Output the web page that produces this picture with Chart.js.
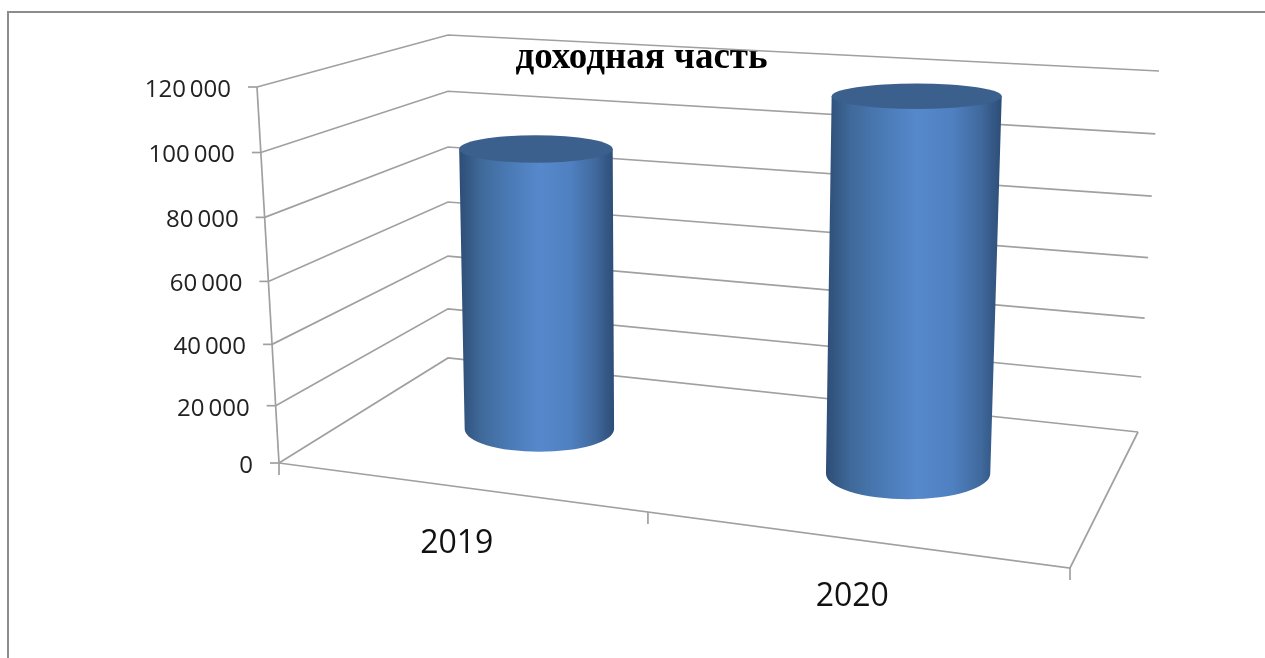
<!DOCTYPE html>
<html lang="ru">
<head>
<meta charset="utf-8">
<title>доходная часть</title>
<script src="https://cdn.jsdelivr.net/npm/chart.js@4"></script>
<style>
    html, body { margin: 0; padding: 0; background: #fff; overflow: hidden; }
    #wrap { position: relative; width: 1265px; height: 658px; }
    #frame { position: absolute; left: 7px; top: 11px; right: 0; bottom: 0; border-top: 2px solid #8c8c8c; border-left: 2px solid #8c8c8c; }
    canvas { position: absolute; left: 0; top: 0; }
</style>
</head>
<body>
<div id="wrap">
    <div id="frame"></div>
    <canvas id="grafico" width="1265" height="658"></canvas>
</div>
<script>
// Dados
const anos = ['2019', '2020'];
const receita = [94700, 118500];
const yTicks = [0, 20000, 40000, 60000, 80000, 100000, 120000];
const yTickLabels = ['0', '20\u2009000', '40\u2009000', '60\u2009000', '80\u2009000', '100\u2009000', '120\u2009000'];
const titulo = 'доходная часть';

// Cantos da caixa 3D na tela: f = frente, b = fundo, l/r = esquerda/direita, 0/1 = base/topo
const box = {
    fl0: [279, 463], fr0: [1070, 568], bl0: [448, 358], br0: [1138, 432],
    fl1: [257, 87], fr1: [1080, 137], bl1: [448, 35], br1: [1159, 71]
};
const lineColor = '#a0a0a0';
const tickFont = '24px "Open Sans"';
const catFont = '32px "Open Sans"';
const barDepth = 0.52;    // posição das barras na profundidade do piso
const barRadiusD = 0.205; // raio do cilindro na profundidade

function mix(a, b, t) {
    return [a[0] + (b[0] - a[0]) * t, a[1] + (b[1] - a[1]) * t];
}

// u: 0..1 na largura, v: 0..1 na altura, d: 0 (frente)..1 (fundo)
function project(u, v, d) {
    const w = 1.144 - 0.085 * d; // encurtamento da perspectiva
    const uw = u / (u + (1 - u) * w);
    const vw = Math.pow(v, 1.05);
    const bottom = mix(mix(box.fl0, box.fr0, uw), mix(box.bl0, box.br0, uw), d);
    const top = mix(mix(box.fl1, box.fr1, uw), mix(box.bl1, box.br1, uw), d);
    return mix(bottom, top, vw);
}

function line(ctx, pts) {
    ctx.beginPath();
    pts.forEach((p, i) => (i === 0 ? ctx.moveTo(p[0], p[1]) : ctx.lineTo(p[0], p[1])));
    ctx.stroke();
}

// Paredes, piso, marcas e textos dos eixos
const wallsPlugin = {
    id: 'walls',
    beforeDatasetsDraw(chart) {
        const ctx = chart.ctx;
        const yScale = chart.scales.y;
        const xScale = chart.scales.x;
        const area = chart.chartArea;
        ctx.save();
        ctx.strokeStyle = lineColor;
        ctx.lineWidth = 1.7;

        yScale.ticks.forEach((tick, i) => {
            const v = (area.bottom - yScale.getPixelForValue(tick.value)) / area.height;
            const front = project(0, v, 0);
            line(ctx, [front, project(0, v, 1), project(1, v, 1)]);
            line(ctx, [[front[0] - 9, front[1]], front]);

            ctx.fillStyle = '#222';
            ctx.font = tickFont;
            ctx.textAlign = 'right';
            ctx.textBaseline = 'middle';
            ctx.fillText(yTickLabels[i], front[0] - 26, front[1] + 3);
        });

        line(ctx, [project(0, 0, 0), project(0, 1, 0)]);
        line(ctx, [project(0, 0, 0), project(1, 0, 0), project(1, 0, 1)]);

        // marcas do eixo x (limites das categorias)
        [0, 0.5, 1].forEach(u => {
            const p = project(u, 0, 0);
            line(ctx, [p, [p[0], p[1] + 12]]);
        });

        // rótulos das categorias seguem a borda da frente
        anos.forEach((ano, i) => {
            const u = (xScale.getPixelForValue(i) - area.left) / area.width;
            const a = mix(box.fl0, box.fr0, u);
            ctx.fillStyle = '#111';
            ctx.font = catFont;
            ctx.textAlign = 'center';
            ctx.textBaseline = 'middle';
            ctx.fillText(ano, a[0] - 20, a[1] + 55);
        });
        ctx.restore();
    },
    // Cilindros a partir dos elementos de barra
    afterDatasetsDraw(chart) {
        const ctx = chart.ctx;
        const area = chart.chartArea;
        chart.getDatasetMeta(0).data.forEach(bar => {
            const u0 = (bar.x - bar.width / 2 - area.left) / area.width;
            const u1 = (bar.x + bar.width / 2 - area.left) / area.width;
            const uc = (bar.x - area.left) / area.width;
            const v = (area.bottom - bar.y) / area.height;
            drawCylinder(ctx, u0, uc, u1, v);
        });
    }
};

function ellipseAt(u0, uc, u1, v) {
    const l = project(u0, v, barDepth);
    const r = project(u1, v, barDepth);
    const front = project(uc, v, barDepth - barRadiusD);
    const back = project(uc, v, barDepth + barRadiusD);
    return {
        x: (l[0] + r[0]) / 2,
        y: (front[1] + back[1]) / 2,
        rx: (r[0] - l[0]) / 2,
        ry: (front[1] - back[1]) / 2
    };
}

function drawCylinder(ctx, u0, uc, u1, v) {
    const bottom = ellipseAt(u0, uc, u1, 0);
    const top = ellipseAt(u0, uc, u1, v);
    const left = Math.min(bottom.x - bottom.rx, top.x - top.rx);
    const right = Math.max(bottom.x + bottom.rx, top.x + top.rx);

    const grad = ctx.createLinearGradient(left, 0, right, 0);
    grad.addColorStop(0, '#2d4d76');
    grad.addColorStop(0.14, '#3f6999');
    grad.addColorStop(0.32, '#4a7ab5');
    grad.addColorStop(0.52, '#5688cc');
    grad.addColorStop(0.72, '#4f80c0');
    grad.addColorStop(0.88, '#40699d');
    grad.addColorStop(1, '#2d4d76');

    ctx.save();
    ctx.fillStyle = grad;
    ctx.beginPath();
    ctx.moveTo(top.x - top.rx, top.y);
    ctx.lineTo(bottom.x - bottom.rx, bottom.y);
    ctx.ellipse(bottom.x, bottom.y, bottom.rx, bottom.ry, 0, Math.PI, 0, true);
    ctx.lineTo(top.x + top.rx, top.y);
    ctx.closePath();
    ctx.fill();

    ctx.fillStyle = '#3c608e';
    ctx.beginPath();
    ctx.ellipse(top.x, top.y, top.rx, top.ry, 0, 0, Math.PI * 2);
    ctx.fill();
    ctx.restore();
}

const ctxGrafico = document.getElementById('grafico').getContext('2d');
new Chart(ctxGrafico, {
    type: 'bar',
    data: {
        labels: anos,
        datasets: [{
            label: titulo,
            data: receita,
            backgroundColor: 'rgba(0, 0, 0, 0)',
            barPercentage: 0.425,
            categoryPercentage: 1
        }]
    },
    options: {
        responsive: false,
        animation: false,
        layout: { padding: { left: 18, top: 36, right: 0, bottom: 20 } },
        scales: {
            x: { display: false },
            y: {
                display: false,
                min: 0,
                max: 120000,
                afterBuildTicks: scale => { scale.ticks = yTicks.map(value => ({ value })); }
            }
        },
        plugins: {
            legend: { display: false },
            tooltip: { enabled: false },
            title: {
                display: true,
                text: titulo,
                color: '#000',
                font: { family: '"Liberation Serif"', size: 37, weight: 'bold' },
                padding: 0
            }
        }
    },
    plugins: [wallsPlugin]
});
</script>
</body>
</html>
